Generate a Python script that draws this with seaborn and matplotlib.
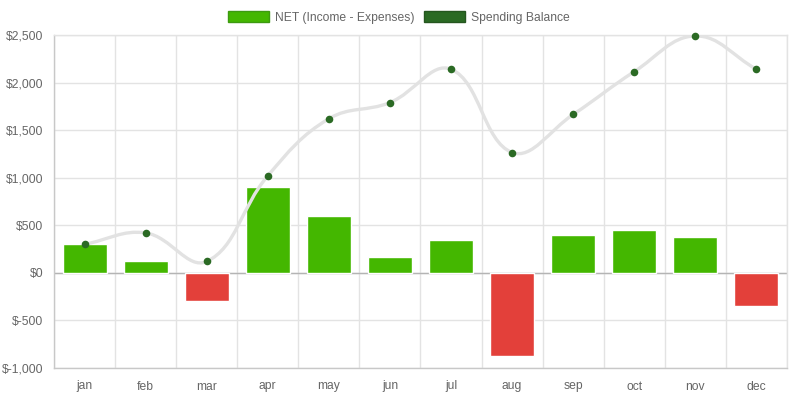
import numpy as np
import pandas as pd
import matplotlib
matplotlib.use("Agg")
import matplotlib.pyplot as plt
from matplotlib.path import Path
from matplotlib.patches import PathPatch, Patch
import seaborn as sns

months = ["jan", "feb", "mar", "apr", "may", "jun", "jul", "aug", "sep", "oct", "nov", "dec"]
net = [300, 120, -300, 900, 600, 170, 350, -875, 400, 450, 375, -350]
balance = [300, 420, 120, 1020, 1620, 1790, 2140, 1265, 1665, 2115, 2490, 2140]
y_ticks = [-1000, -500, 0, 500, 1000, 1500, 2000, 2500]

green = "#44b700"
red = "#e3403a"
dark_green = "#2b6a24"
grid_c = "#e3e3e3"
text_c = "#666666"

sns.set_style("white")
plt.rcParams["font.family"] = ["Liberation Sans", "DejaVu Sans"]

df = pd.DataFrame({"month": months, "net": net})
colors = [green if v >= 0 else red for v in net]

fig = plt.figure(figsize=(8.04, 3.99), dpi=100)
ax = fig.add_axes([54 / 804, 1 - 368 / 399, 733 / 804, 333 / 399])

sns.barplot(data=df, x="month", y="net", hue="month", palette=colors, legend=False,
            width=0.72, saturation=1, ax=ax, zorder=2)
ax.set_xlim(-0.5, 11.5)
ax.set_ylim(-1000, 2500)

# smooth line like chart.js (tension 0.4), computed in pixel space
fig.canvas.draw()
pts = ax.transData.transform(np.column_stack([np.arange(len(balance)), balance]))
n = len(pts)
verts = [pts[0]]
codes = [Path.MOVETO]
ctrl_prev, ctrl_next = [], []
t = 0.4
for i in range(n):
    p0 = pts[i - 1] if i > 0 else pts[i]
    p1 = pts[i]
    p2 = pts[i + 1] if i < n - 1 else pts[i]
    d01 = np.hypot(*(p1 - p0))
    d12 = np.hypot(*(p2 - p1))
    tot = d01 + d12
    s01 = d01 / tot if tot else 0
    s12 = d12 / tot if tot else 0
    ctrl_prev.append(p1 - t * s01 * (p2 - p0))
    ctrl_next.append(p1 + t * s12 * (p2 - p0))
bb = ax.get_window_extent()
for i in range(1, n):
    c1 = ctrl_next[i - 1].copy()
    c2 = ctrl_prev[i].copy()
    for c in (c1, c2):
        c[1] = min(max(c[1], bb.y0), bb.y1)
    verts += [c1, c2, pts[i]]
    codes += [Path.CURVE4] * 3
inv = ax.transData.inverted()
path = Path(inv.transform(np.array(verts)), codes)
ax.add_patch(PathPatch(path, facecolor="none", edgecolor="#e2e2e2", lw=2.4, zorder=3))
sns.scatterplot(x=np.arange(n), y=balance, color=dark_green, s=30, linewidth=0,
                ax=ax, zorder=4, clip_on=False)

ax.axhline(0, color="#b4b4b4", lw=1, zorder=1.5)

ax.set_yticks(y_ticks)
ax.set_yticklabels([f"${v:,}" for v in y_ticks])
ax.set_xticks(range(12))
ax.set_xticklabels(months)
ax.set_xticks(np.arange(-0.5, 12, 1), minor=True)
ax.tick_params(axis="x", which="major", length=0, pad=9, labelsize=8.7, labelcolor=text_c)
ax.tick_params(axis="x", which="minor", length=7, color=grid_c, width=1)
ax.tick_params(axis="y", length=6.5, color=grid_c, width=1, pad=1, labelsize=8.7, labelcolor=text_c)
ax.grid(True, axis="y", color=grid_c, lw=1, zorder=0)
ax.grid(True, axis="x", which="minor", color=grid_c, lw=1, zorder=0)
ax.grid(False, axis="x", which="major")
ax.set_axisbelow(True)
ax.set_xlabel("")
ax.set_ylabel("")
for s in ax.spines.values():
    s.set_color(grid_c)
    s.set_linewidth(1)
ax.spines["left"].set_color("#c8c8c8")
ax.spines["bottom"].set_color("#c8c8c8")

handles = [Patch(facecolor=green, edgecolor="#3d9a10", label="NET (Income - Expenses)"),
           Patch(facecolor=dark_green, edgecolor="#25561f", label="Spending Balance")]
fig.legend(handles=handles, loc="upper center", bbox_to_anchor=(0.496, 1.0), ncol=2,
           frameon=False, fontsize=8.7, labelcolor=text_c, handlelength=3.4, handleheight=1.1,
           handletextpad=0.45, columnspacing=0.8)

fig.savefig("out.png", dpi=100)
